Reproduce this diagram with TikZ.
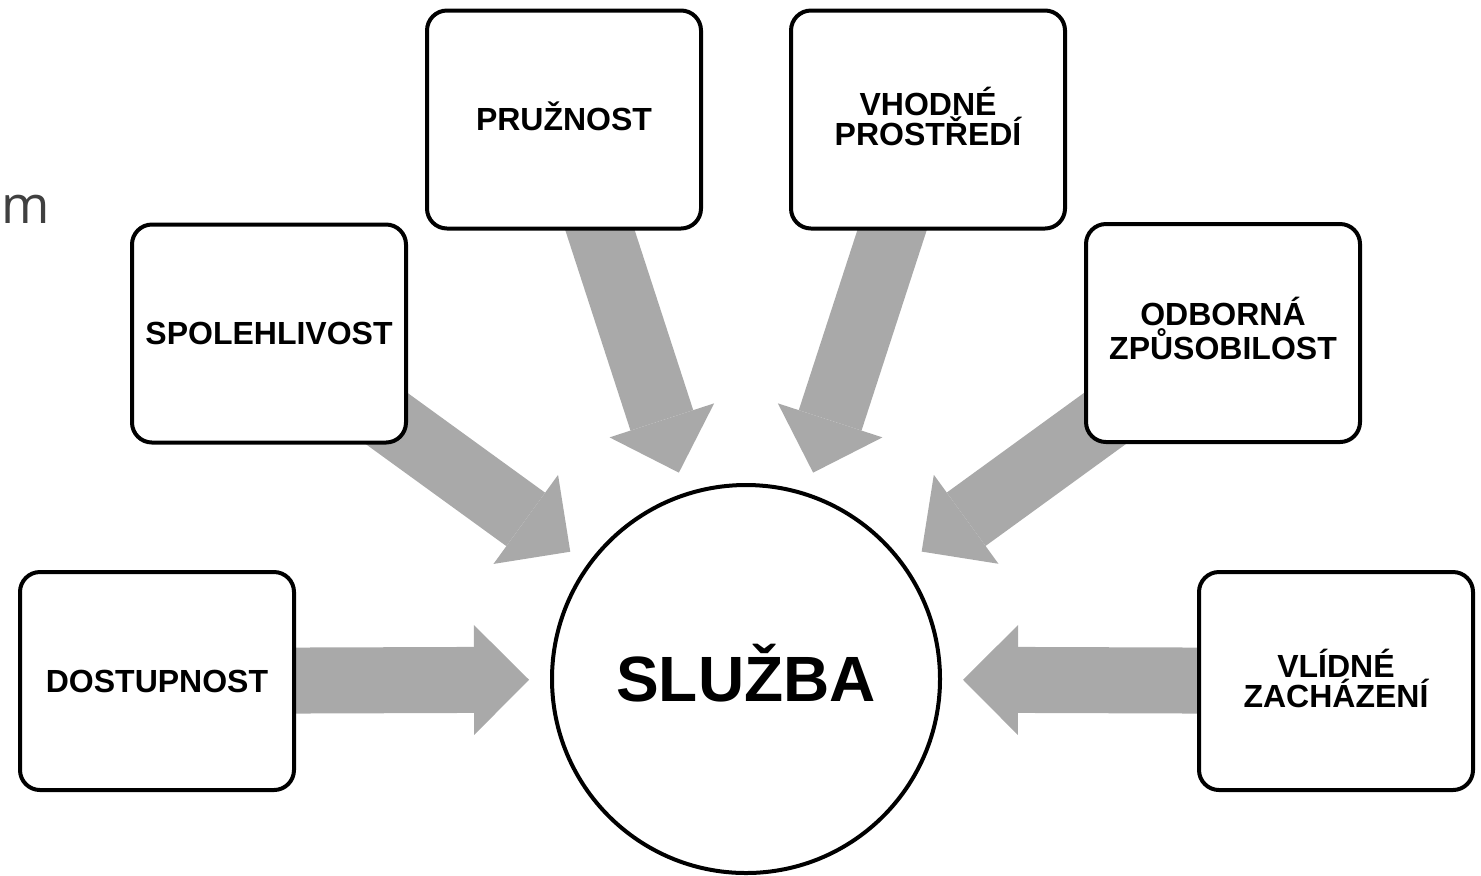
\documentclass[tikz,border=0pt]{standalone}
\usepackage{fontspec}
\setmainfont{Liberation Sans}
\newfontfamily\cutfont{Open Sans}
\usetikzlibrary{%
  arrows.meta,
  backgrounds,
}
\definecolor{arrowgray}{RGB}{169,169,169}
\definecolor{cutgray}{RGB}{64,64,64}

\begin{document}
\begin{tikzpicture}[%
           x=0.5pt,
           y=-0.5pt,
           quality/.style={
             % The shape:
             rectangle,
             rounded corners=10pt,
             % The size:
             minimum width=137pt,
             minimum height=109pt,
             align=center,
             % The border:
             line width=2pt,
             draw=black,
             % white inside, so the arrows go under it
             fill=white,
             % The text, centred on its capitals:
             font=\bfseries\fontsize{16}{15}\selectfont,
             text height=11pt,
             text depth=0pt,
           },
           twolines/.style={
             % one more line above the last baseline
             text height=26pt,
           },
           service/.style={
             circle,
             minimum size=194pt,
             line width=2pt,
             draw=black,
             fill=white,
             font=\bfseries\fontsize{32}{38}\selectfont,
             text height=22pt,
             text depth=0pt,
           },
           flow/.style={
             line width=33pt,
             draw=arrowgray,
             shorten <=-40pt,
             shorten >=10.5pt,
             -{Triangle[length=27.5pt,width=55pt,line width=0pt]},
           }]

         \useasboundingbox (0,0) rectangle (1481,875);

         \node[service] (sluzba) at (746,679) {SLUŽBA};

         \node[quality] (pruznost)     at (564,119.5) {PRUŽNOST};
         \node[quality,twolines] (prostredi)   at (928,119.5) {VHODNÉ\\PROSTŘEDÍ};
         \node[quality] (spolehlivost) at (269,333.5) {SPOLEHLIVOST};
         \node[quality,twolines] (zpusobilost) at (1223,333)  {ODBORNÁ\\ZPŮSOBILOST};
         \node[quality] (dostupnost)   at (157,681)   {DOSTUPNOST};
         \node[quality,twolines] (zachazeni)   at (1336,681)  {VLÍDNÉ\\ZACHÁZENÍ};

         % left-over letter at the edge
         \node[font=\cutfont\fontsize{26}{30}\selectfont, text=cutgray,
               anchor=base west, inner sep=0pt] (cut) at (1,223) {m};

         \begin{pgfonlayer}{background}
           \draw[flow] (dostupnost) -- (sluzba);
           \draw[flow] (spolehlivost) -- (sluzba);
           \draw[flow] (pruznost) -- (sluzba);
           \draw[flow] (prostredi) -- (sluzba);
           \draw[flow] (zpusobilost) -- (sluzba);
           \draw[flow] (zachazeni) -- (sluzba);
         \end{pgfonlayer}

     \end{tikzpicture}
\end{document}
